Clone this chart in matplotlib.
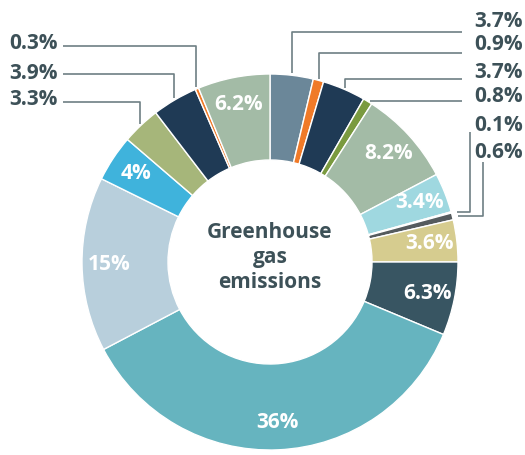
import numpy as np
import matplotlib
matplotlib.use("Agg")
import matplotlib.pyplot as plt

# ---- data (clockwise from 12 o'clock) ----
values = [3.7, 0.9, 3.7, 0.8, 8.2, 3.4, 0.1, 0.6, 3.6, 6.3, 36, 15, 4, 3.3, 3.9, 0.3, 6.2]
labels = ["3.7%", "0.9%", "3.7%", "0.8%", "8.2%", "3.4%", "0.1%", "0.6%", "3.6%",
          "6.3%", "36%", "15%", "4%", "3.3%", "3.9%", "0.3%", "6.2%"]
colors = ["#6b8799", "#f07a28", "#1f3a55", "#7a9a3f", "#a3bba6", "#9fd8e0", "#f07a28",
          "#555b5e", "#d6cc8f", "#385562", "#66b4bf", "#b8cfdc", "#3fb3dc", "#a6b67a",
          "#1f3a55", "#f07a28", "#a3bba6"]
inside = [4, 5, 8, 9, 10, 11, 12, 16]
center_text = "Greenhouse\ngas\nemissions"

TEXT = "#3d5158"
LINE = "#6e7f84"
plt.rcParams['font.family'] = ['Open Sans', 'DejaVu Sans']

W, H = 525, 455
CX, CY, R = 270, 262, 188      # pixel layout of the ring
fig = plt.figure(figsize=(W / 100, H / 100), dpi=100)
ax = fig.add_axes([0, 0, 1, 1])
ax.set_xlim(-CX / R, (W - CX) / R)
ax.set_ylim(-(H - CY) / R, CY / R)
ax.axis("off")

def px(x, y):
    return (x - CX) / R, (CY - y) / R

wedges, _ = ax.pie(values, colors=colors, startangle=90, counterclock=False, radius=1,
                   wedgeprops=dict(width=1 - 102 / R, edgecolor="white", linewidth=1.0))
ax.set_xlim(-CX / R, (W - CX) / R)
ax.set_ylim(-(H - CY) / R, CY / R)
ax.set_aspect("auto")

mids = [np.deg2rad((w.theta1 + w.theta2) / 2) for w in wedges]

# inside labels
for i in inside:
    r = 0.855
    ax.text(r * np.cos(mids[i]), r * np.sin(mids[i]), labels[i], color="white",
            fontsize=15, fontweight="bold", ha="center", va="center")

ax.text(0, px(0, 257)[1], center_text, color=TEXT, fontsize=15, fontweight="bold",
        ha="center", va="center", linespacing=1.25)

lk = dict(color=LINE, lw=1.2, solid_capstyle="butt")
xr_end = px(462, 0)[0]
xr_txt = px(474, 0)[0]
# right labels: index -> text bottom (px)
right_bottom = {0: 27, 1: 50, 2: 78, 3: 102, 6: 131, 7: 158}
right_line_y = {0: 32, 1: 53, 2: 79}
for i, yb in right_bottom.items():
    ax.text(xr_txt, px(0, yb)[1], labels[i], color=TEXT, fontsize=15, fontweight="bold",
            ha="left", va="baseline")
for i, ly in right_line_y.items():
    x0, y0 = 1.01 * np.cos(mids[i]), 1.01 * np.sin(mids[i])
    y1 = px(0, ly)[1]
    ax.plot([x0, x0, xr_end], [y0, y1, y1], **lk)
# 0.8 horizontal
x0, y0 = 1.025 * np.cos(mids[3]), np.sin(mids[3])
ax.plot([x0, xr_end], [y0, y0], **lk)
# 0.1 and 0.6: right then up
for i, xv, ytop in [(6, 470, 132), (7, 483, 162)]:
    x0, y0 = 1.03 * np.cos(mids[i]), np.sin(mids[i])
    xv_d = px(xv, 0)[0]
    ax.plot([x0, xv_d, xv_d], [y0, y0, px(0, ytop)[1]], **lk)

# left labels
xl_start = px(63, 0)[0]
xl_txt = px(58, 0)[0]
left = {15: (49, 46), 14: (79, 74), 13: (105, 102)}
for i, (yb, ly) in left.items():
    ax.text(xl_txt, px(0, yb)[1], labels[i], color=TEXT, fontsize=15, fontweight="bold",
            ha="right", va="baseline")
    x0, y0 = 1.01 * np.cos(mids[i]), 1.01 * np.sin(mids[i])
    y1 = px(0, ly)[1]
    ax.plot([x0, x0, xl_start], [y0, y1, y1], **lk)

fig.savefig("out.png", dpi=100)
